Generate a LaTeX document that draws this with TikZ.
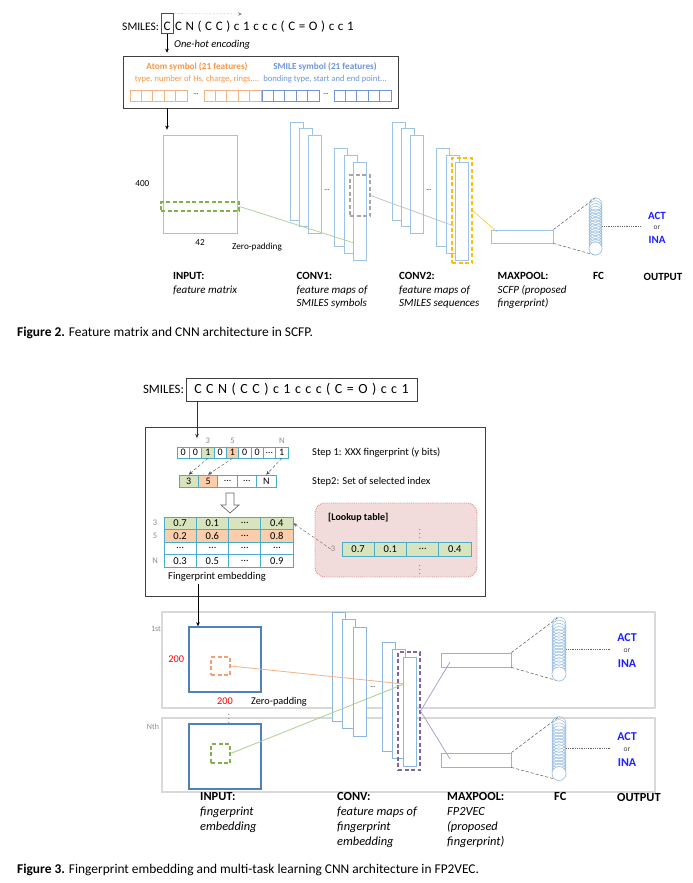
\documentclass[tikz,border=0pt]{standalone}
\usepackage{fontspec}
\setmainfont{Carlito}
\usetikzlibrary{positioning,arrows.meta}

\definecolor{mapblue}{HTML}{9DC3E6}
\definecolor{inblue}{HTML}{4F81BD}
\definecolor{atomorange}{HTML}{F79646}
\definecolor{cellorange}{HTML}{F4B183}
\definecolor{smileblue}{HTML}{6F94DC}
\definecolor{tealcell}{HTML}{4BACC6}
\definecolor{gfill}{HTML}{D7E4BD}
\definecolor{ofill}{HTML}{FBCDAA}
\definecolor{lutfill}{HTML}{F2DCDB}
\definecolor{lutline}{HTML}{E38D8D}
\definecolor{linegreen}{HTML}{A9D18E}
\definecolor{dashgreen}{HTML}{7FB24B}
\definecolor{lineorange}{HTML}{F4B183}
\definecolor{amber}{HTML}{FFC000}
\definecolor{dashpurple}{HTML}{8064A2}
\definecolor{linepurple}{HTML}{A797CC}
\definecolor{panelgray}{HTML}{D9D9D9}
\definecolor{actblue}{HTML}{1F1FFF}
\definecolor{zerored}{HTML}{FF0000}

\begin{document}
\begin{tikzpicture}[x=1pt,y=-1pt,>={Stealth[length=4pt,width=3.5pt]},inner sep=0pt,
                    font=\fontsize{10}{12}\selectfont]
  \tikzstyle{fmap}=[draw=mapblue,fill=white,line width=0.8pt,
                    minimum width=13pt,minimum height=98pt]
  \tikzstyle{fmapb}=[fmap,draw=mapblue!80!inblue,minimum height=109pt]
  \tikzstyle{onecell}=[draw,line width=0.7pt,minimum width=11.4pt,minimum height=11pt]
  \tikzstyle{bcell}=[draw=tealcell,line width=0.7pt,minimum width=12.3pt,
                     minimum height=11pt,font=\fontsize{10}{11}\selectfont]
  \tikzstyle{icell}=[bcell,minimum width=19.4pt,minimum height=12pt]
  \tikzstyle{mcell}=[bcell,minimum width=32.25pt,minimum height=12.5pt,
                     font=\fontsize{10.5}{11}\selectfont]
  \tikzstyle{idxlbl}=[text=black!45,font=\fontsize{8.5}{9}\selectfont]
  \tikzstyle{window}=[draw,line width=1.1pt,dash pattern=on 4pt off 2.5pt]
  \tikzstyle{coil}=[draw=mapblue!90!inblue,line width=0.5pt]
  \tikzstyle{fcedge}=[densely dashed,black!65,line width=0.5pt]
  \tikzstyle{outdots}=[densely dotted,black!60,line width=0.8pt]
  \tikzstyle{stagetwo}=[align=left,anchor=north west,font=\fontsize{11}{13.3}\selectfont]
  \tikzstyle{stagethree}=[align=left,anchor=north west,font=\fontsize{12.4}{15}\selectfont]
  \tikzstyle{act}=[text=actblue,font=\bfseries\fontsize{12}{13}\selectfont]
  \tikzstyle{orword}=[text=black!75,font=\fontsize{7.5}{8}\selectfont]
  \tikzstyle{panel}=[draw=panelgray,line width=1.2pt]
  \tikzstyle{inbox}=[draw=inblue,line width=1.6pt,minimum width=72pt,minimum height=65pt]
  \tikzstyle{dots}=[font=\fontsize{7}{8}\selectfont]
  \tikzstyle{vdot}=[font=\fontsize{6.5}{7}\selectfont]

  \useasboundingbox[fill=white] (0,0) rectangle (693,883);

  % Figure 2: SMILES -> one-hot feature matrix -> CNN
  \node[draw=black!70,line width=0.7pt,minimum width=12pt,text height=18pt,
        text depth=2.5pt,anchor=base,font=\fontsize{13}{14}\selectfont] (firstC) at (167,31) {C};
  \node[anchor=base west,font=\fontsize{13}{14}\selectfont\addfontfeature{LetterSpace=28}]
        (smi1) at ([xshift=1.5pt]firstC.base east) {CN(CC)c1ccc(C=O)cc1};
  \node[anchor=base east,font=\fontsize{11.5}{12}\selectfont] (lbl1) at ([xshift=-1.5pt]firstC.base west) {SMILES:};
  \coordinate (scan) at (242,14);
  \draw[->,densely dotted,black!45] ([xshift=2pt,yshift=-1pt]firstC.north east) -- (scan);

  \node[draw=black!75,line width=0.7pt,minimum width=275pt,minimum height=52pt] (ohe) at (260.5,82) {};
  \draw[->,shorten >=3pt] (firstC.south) -- (firstC.south |- ohe.north);
  \node[anchor=west,font=\itshape\fontsize{10.5}{12}\selectfont] at (174,45) {One-hot encoding};
  \node[text=atomorange,font=\bfseries\fontsize{9.2}{10}\selectfont] (atom) at (197,67) {Atom symbol (21 features)};
  \node[text=atomorange,font=\fontsize{8.6}{10}\selectfont] at (197,79) {type, number of Hs, charge, rings,...};
  \node[text=smileblue,font=\bfseries\fontsize{9.2}{10}\selectfont] (smile) at (325,67) {SMILE symbol (21 features)};
  \node[text=smileblue,font=\fontsize{8.6}{10}\selectfont] at (325,79) {bonding type, start and end point...};
  \foreach \gx/\col [count=\g] in {130/cellorange,204/cellorange,262/smileblue,334/smileblue}
    \foreach \i in {0,...,4}
      \node[onecell,draw=\col] (oh\g\i) at (\gx+5.7+11.4*\i,95.5) {};
  \node[dots] at (196,94) {...};
  \node[dots] at (326,94) {...};

  \node[fmap,minimum width=74pt] (inp) at (200,184) {};
  \draw[->,shorten >=5pt] (ohe.south -| firstC.south) -- (inp.north -| firstC.south);
  \node[left=13pt of inp,font=\fontsize{9.2}{10}\selectfont] {400};
  \node[below=6pt of inp,font=\fontsize{9.2}{10}\selectfont] {42};
  \node[anchor=west,font=\fontsize{9.2}{10}\selectfont] at (232,247) {Zero-padding};
  \node[window,draw=dashgreen,minimum width=78pt,minimum height=9pt] (win1) at (200,206.5) {};

  \foreach \n/\x/\y in {a1/296.5/171,a2/306/177.5,a3/315/184,a4/341/197.5,a5/350.5/204,a6/359.5/211,
                        b1/398.5/171,b2/408/177.5,b3/417/184,b4/443/197.5,b5/452.5/204,b6/461.5/211}
    \node[fmap] (\n) at (\x,\y) {};
  \node[dots] at (327,190) {...};
  \node[dots] at (429,190) {...};
  \node[window,draw=black!35,minimum width=20pt,minimum height=41pt] (win2) at (360,195.5) {};
  \node[window,draw=amber,minimum width=20pt,minimum height=105pt] (win3) at (462,210.5) {};
  \node[fmap,minimum width=62pt,minimum height=13pt] (mp0) at (522,236.5) {};

  \coordinate (hit1) at (354,243);
  \coordinate (hit2) at (454,226);
  \coordinate (hit3) at (497,232);
  \draw[linegreen,line width=0.7pt] (win1.east) -- (hit1);
  \draw[black!25,line width=0.7pt] (win2.east) -- (hit2);
  \draw[amber!80,line width=0.7pt] (win3.east) -- (hit3);

  \node[minimum width=13pt,minimum height=57pt] (fc0) at (595.5,226.5) {};
  \draw[fcedge] (mp0.north east) -- (fc0.north);
  \draw[fcedge] (mp0.south east) -- (fc0.south);
  \node[orword] (or0) at (657,228) {or};
  \node[act,font=\bfseries\fontsize{11}{12}\selectfont] at (657,216) {ACT};
  \node[act,font=\bfseries\fontsize{11}{12}\selectfont] at (657,239.5) {INA};
  \draw[outdots,shorten >=12pt] (fc0.east) -- (fc0.east -| or0.west);

  \node[stagetwo] at (173,272.5) {\textbf{INPUT:}\\\textit{feature matrix}};
  \node[stagetwo] at (296.5,272.5) {\textbf{CONV1:}\\\textit{feature maps of}\\\textit{SMILES symbols}};
  \node[stagetwo] at (399,272.5) {\textbf{CONV2:}\\\textit{feature maps of}\\\textit{SMILES sequences}};
  \node[stagetwo] at (497.5,272.5) {\textbf{MAXPOOL:}\\\textit{SCFP (proposed}\\\textit{fingerprint)}};
  \node[stagetwo] at (593,272.5) {\textbf{FC}};
  \node[stagetwo] at (643.5,273) {\textbf{OUTPUT}};

  \node[anchor=base west,font=\fontsize{13.4}{15}\selectfont] (cap2) at (17,336)
       {\textbf{Figure 2.} Feature matrix and CNN architecture in SCFP.};

  % Figure 3: fingerprint embedding and multi-task CNN
  \node[draw=black!75,line width=0.7pt,minimum width=231pt,minimum height=23pt,
        font=\fontsize{14}{15}\selectfont\addfontfeature{LetterSpace=32}] (smi2) at (301.5,389.5) {CCN(CC)c1ccc(C=O)cc1};
  \node[left=1.5pt of smi2,font=\fontsize{12.8}{14}\selectfont] (lbl2) {SMILES:};
  \node[draw=black!75,line width=0.7pt,minimum width=340pt,minimum height=169pt] (emb) at (315,511.5) {};
  \coordinate (bitin) at (197,438);
  \draw[->,black!80] (smi2.south -| bitin) -- (bitin);

  \foreach \v/\f [count=\i] in {0/white,0/white,1/gfill,0/white,1/ofill,0/white,0/white,\dots/white,1/white}
    \node[bcell,fill=\f] (bit\i) at (170.8+12.33*\i,452.5) {\v};
  \node[idxlbl,above=3pt of bit3] {3};
  \node[idxlbl,above=3pt of bit5] {5};
  \node[idxlbl,above=3pt of bit9] {N};
  \foreach \v/\f [count=\i] in {3/gfill,5/ofill,\dots/white,\dots/white,N/white}
    \node[icell,fill=\f] (idx\i) at (169.3+19.4*\i,481) {\v};
  \draw[->,densely dashed,black!70] (bit3.south) -- (idx1.north);
  \draw[->,densely dashed,black!70] (bit5.south) -- (idx2.north);
  \draw[->,densely dashed,black!70] (bit9.south) -- (idx5.north);
  \node[anchor=west,font=\fontsize{10.5}{12}\selectfont] (step1) at (312,453) {Step 1: XXX fingerprint (y bits)};
  \node[anchor=west,font=\fontsize{10.5}{12}\selectfont] (step2) at (312,482) {Step2: Set of selected index};

  % hollow arrow from index set to embedding
  \coordinate (down) at (230,493);
  \draw[black!60,line width=0.7pt,fill=white] (down) ++(-4,0) -- ++(8,0) -- ++(0,12) -- ++(5,0)
       -- ++(-9,8) -- ++(-9,-8) -- ++(5,0) -- cycle;

  \foreach \va/\vb/\vc/\vd/\f [count=\r] in {0.7/0.1/\dots/0.4/gfill,0.2/0.6/\dots/0.8/ofill,
                                             \dots/\dots/\dots/\dots/white,0.3/0.5/\dots/0.9/white}
    \foreach \v [count=\k] in {\va,\vb,\vc,\vd}
      \node[mcell,fill=\f] (m\r\k) at (147.875+32.25*\k,510.75+12.5*\r) {\v};
  \foreach \t [count=\r] in {3,5,{},N}
    \node[idxlbl] at (155,510.75+12.5*\r) {\t};
  \node[font=\fontsize{10.5}{12}\selectfont] (fpe) at (217,577) {Fingerprint embedding};

  \node[draw=lutline,fill=lutfill,densely dotted,line width=0.9pt,rounded corners=10pt,
        minimum width=162pt,minimum height=74pt] (lut) at (396,540) {};
  \node[anchor=west,font=\bfseries\fontsize{10}{11}\selectfont] at (328,518) {[Lookup table]};
  \node[vdot] at (420,531) {$\vdots$};
  \node[vdot] at (420,567) {$\vdots$};
  \node[idxlbl] (lut3) at (333,549) {3};
  \foreach \v [count=\k] in {0.7,0.1,\dots,0.4}
    \node[mcell,fill=gfill,minimum height=14pt] (lutc\k) at (325.875+32.25*\k,549) {\v};
  \draw[->,densely dashed,black!60] (lut3.west) -- (m14.east);

  \node[panel,minimum width=493pt,minimum height=96pt] (p1) at (408.5,660) {};
  \node[panel,minimum width=493pt,minimum height=74pt] (p2) at (408.5,755) {};
  \node[idxlbl,font=\fontsize{8}{9}\selectfont] at (156,629) {1st};
  \node[idxlbl,font=\fontsize{8}{9}\selectfont] at (153,727) {Nth};

  \node[inbox] (in1) at (225,659.5) {};
  \node[inbox] (in2) at (225,756.5) {};
  \coordinate (embout) at (198,584);
  \draw[->] (embout) -- (embout |- in1.north);
  \node[left=4pt of in1,text=zerored,font=\fontsize{10.3}{11}\selectfont] {200};
  \node[below=5pt of in1,text=zerored,font=\fontsize{10.3}{11}\selectfont] {200};
  \node[anchor=west,font=\fontsize{10.3}{11}\selectfont] at (251,702) {Zero-padding};
  \node[vdot] at (229,716) {$\vdots$};
  \node[window,draw=lineorange!90!red,minimum width=19pt,minimum height=18pt] (win4) at (220.5,666) {};
  \node[window,draw=dashgreen,minimum width=19pt,minimum height=19pt] (win5) at (220.5,753.5) {};

  \foreach \n/\x/\y in {d1/338.5/666.5,d2/349/673.5,d3/360/681.5,d4/388.5/697,d5/398.5/704,d6/409.5/711.5}
    \node[fmapb] (\n) at (\x,\y) {};
  \node[dots] at (373,687) {...};
  \node[window,draw=dashpurple,minimum width=22pt,minimum height=118pt] (win6) at (409,711) {};
  \node[fmapb,minimum width=70pt,minimum height=14pt] (mp1) at (476,660) {};
  \node[fmapb,minimum width=70pt,minimum height=14pt] (mp2) at (476,760) {};

  \coordinate (hit4) at (404,684);
  \coordinate (hit5) at (450,662);
  \coordinate (hit6) at (450,759);
  \draw[lineorange,line width=0.8pt] (win4.east) -- (hit4);
  \draw[linegreen,line width=0.8pt] (win5.east) -- (hit4);
  \draw[linepurple,line width=0.7pt] (win6.east) -- (hit5);
  \draw[linepurple,line width=0.7pt] (win6.east) -- (hit6);

  \node[minimum width=14pt,minimum height=64pt] (fc1) at (559,649) {};
  \node[minimum width=14pt,minimum height=63pt] (fc2) at (559,748.5) {};
  \draw[fcedge] (mp1.north east) -- (fc1.north);
  \draw[fcedge] (mp1.south east) -- (fc1.south);
  \draw[fcedge] (mp2.north east) -- (fc2.north);
  \draw[fcedge] (mp2.south east) -- (fc2.south);

  % fully connected layers drawn as coils
  \foreach \cx/\ya/\yb/\rr in {595.5/204.5/248.5/6.5,559/624/674/7,559/723.5/773.5/7} {
    \foreach \k in {0,...,16}
      \draw[coil] (\cx,{\ya+(\yb-\ya)*\k/16}) ellipse [x radius=\rr pt,y radius=\rr pt];
    \draw[coil,fill=white] (\cx,\yb) ellipse [x radius=\rr pt,y radius=\rr pt];
  }

  \node[orword] (or1) at (627,651) {or};
  \node[act] at (627,638) {ACT};
  \node[act] at (627,664) {INA};
  \node[orword] (or2) at (627,750) {or};
  \node[act] at (627,737) {ACT};
  \node[act] at (627,763) {INA};
  \draw[outdots,shorten >=13pt] (fc1.east) -- (fc1.east -| or1.west);
  \draw[outdots,shorten >=13pt] (fc2.east) -- (fc2.east -| or2.west);

  \node[stagethree] at (200,792) {\textbf{INPUT:}\\\textit{fingerprint}\\\textit{embedding}};
  \node[stagethree] at (337,792) {\textbf{CONV:}\\\textit{feature maps of}\\\textit{fingerprint}\\\textit{embedding}};
  \node[stagethree] at (447,792) {\textbf{MAXPOOL:}\\\textit{FP2VEC}\\\textit{(proposed}\\\textit{fingerprint)}};
  \node[stagethree] at (554,792) {\textbf{FC}};
  \node[stagethree] at (617,793) {\textbf{OUTPUT}};

  \node[anchor=base west,font=\fontsize{13.4}{15}\selectfont] (cap3) at (17,873.5)
       {\textbf{Figure 3.} Fingerprint embedding and multi-task learning CNN architecture in FP2VEC.};
\end{tikzpicture}
\end{document}
